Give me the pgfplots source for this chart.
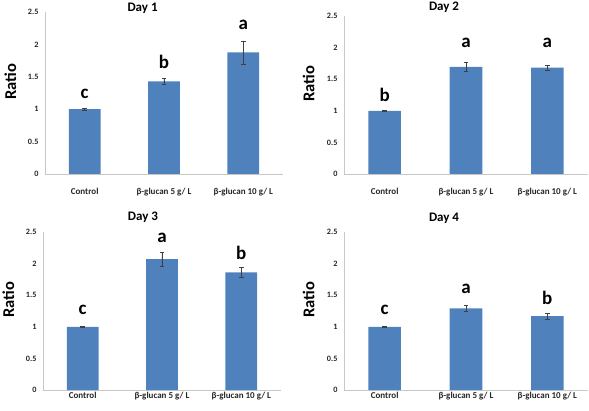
\documentclass[border=0pt]{standalone}
\usepackage{pgfplots}
\usepackage{pgfplotstable}
\usepackage{fontspec}
\setmainfont{Carlito}
\pgfplotsset{compat=1.18}
\definecolor{barblue}{HTML}{4F81BD}
\definecolor{axgray}{HTML}{C8C8C8}

\pgfplotstableread{
x y e
0 1.00 0.01
1 1.43 0.05
2 1.875 0.18
}\dayone
\pgfplotstableread{
x y e
0 1.00 0.005
1 1.695 0.075
2 1.685 0.04
}\daytwo
\pgfplotstableread{
x y e
0 1.00 0.005
1 2.07 0.11
2 1.86 0.08
}\daythree
\pgfplotstableread{
x y e
0 1.00 0.005
1 1.29 0.05
2 1.17 0.05
}\dayfour

\tikzset{letter/.style={font=\bfseries\fontsize{19}{21}\selectfont, anchor=center}}

\pgfplotsset{
  panel/.style={
    scale only axis,
    anchor=south west,
    height=158pt,
    xmin=-0.5, xmax=2.5,
    ymin=0, ymax=2.5,
    ytick={0,0.5,1,1.5,2,2.5},
    xtick={0,1,2},
    xticklabels={Control,β-glucan 5 g/ L,β-glucan 10 g/ L},
    axis x line*=bottom,
    axis y line*=left,
    axis line style={axgray, line width=0.8pt},
    major tick length=0pt,
    /pgf/number format/assume math mode=true,
    yticklabel style={font=\bfseries\fontsize{8.2}{9}\selectfont, text=black!85, xshift=-3pt},
    xticklabel style={font=\bfseries\fontsize{9}{10}\selectfont, text=black!85},
    ylabel={Ratio},
    ylabel style={at={(axis description cs:-0.145,0.57)}, anchor=center, font=\bfseries\fontsize{16.5}{18}\selectfont},
    title style={anchor=center, font=\bfseries\fontsize{13}{15}\selectfont},
    ybar, bar width=0.4,
    clip=false,
  },
  bars/.style={
    fill=barblue, draw=none,
    error bars/.cd, y dir=both, y explicit,
    error bar style={black!75, line width=0.5pt},
    error mark options={rotate=90, mark size=2.2pt, black!75, line width=0.5pt},
  },
}

\begin{document}
\begin{tikzpicture}
\useasboundingbox (0,0) rectangle (589pt,410pt);

% Day 1
\begin{axis}[panel, at={(45pt,236pt)}, width=238pt, height=162pt,
  title={Day 1}, title style={at={(axis description cs:0.41,1)}, yshift=-2pt},
  xticklabel style={yshift=-11pt}]
\addplot[bars] table[x=x, y=y, y error=e] {\dayone};
\node[letter] at (axis cs:0,1.24) {c};
\node[letter] at (axis cs:1,1.73) {b};
\node[letter] at (axis cs:2,2.30) {a};
\end{axis}

% Day 2
\begin{axis}[panel, at={(344pt,236pt)}, width=244pt, height=158pt,
  title={Day 2}, title style={at={(axis description cs:0.41,1)}, yshift=3pt},
  xticklabel style={yshift=-11pt}]
\addplot[bars] table[x=x, y=y, y error=e] {\daytwo};
\node[letter] at (axis cs:0,1.25) {b};
\node[letter] at (axis cs:1,2.07) {a};
\node[letter] at (axis cs:2,2.07) {a};
\end{axis}

% Day 3
\begin{axis}[panel, at={(43pt,20pt)}, width=238pt, height=158pt,
  title={Day 3}, title style={at={(axis description cs:0.42,1)}, yshift=9pt},
  xticklabel style={yshift=1pt}]
\addplot[bars] table[x=x, y=y, y error=e] {\daythree};
\node[letter] at (axis cs:0,1.26) {c};
\node[letter] at (axis cs:1,2.40) {a};
\node[letter] at (axis cs:2,2.17) {b};
\end{axis}

% Day 4
\begin{axis}[panel, at={(344pt,20pt)}, width=244pt, height=158pt,
  title={Day 4}, title style={at={(axis description cs:0.41,1)}, yshift=8pt},
  xticklabel style={yshift=1pt}]
\addplot[bars] table[x=x, y=y, y error=e] {\dayfour};
\node[letter] at (axis cs:0,1.26) {c};
\node[letter] at (axis cs:1,1.60) {a};
\node[letter] at (axis cs:2,1.45) {b};
\end{axis}
\end{tikzpicture}
\end{document}
